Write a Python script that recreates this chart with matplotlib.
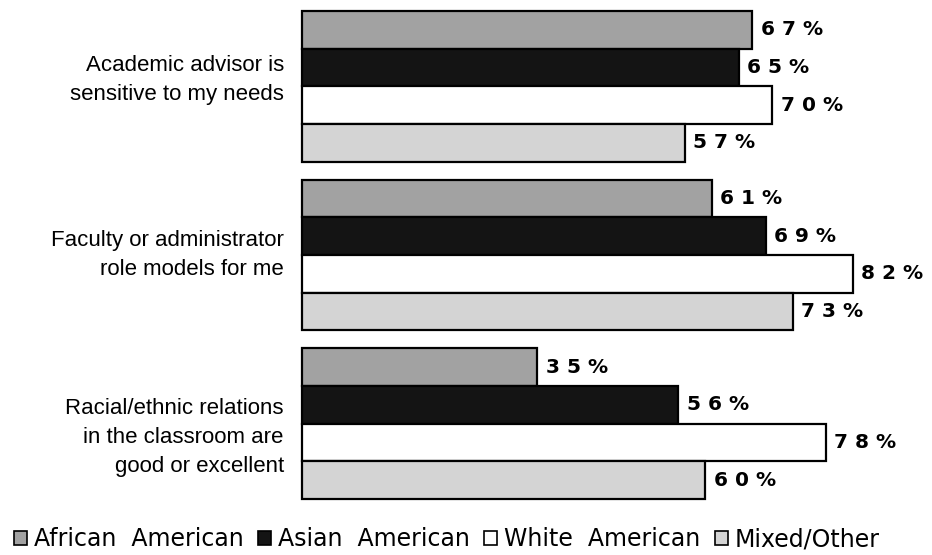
import matplotlib.pyplot as plt
from matplotlib.patches import Patch

plt.rcParams["font.family"] = ["Liberation Sans", "DejaVu Sans"]

# Share of students agreeing, by group (percent)
questions = [
    "Academic advisor is\nsensitive to my needs",
    "Faculty or administrator\nrole models for me",
    "Racial/ethnic relations\nin the classroom are\ngood or excellent",
]
groups = ["African  American", "Asian  American", "White  American", "Mixed/Other"]
african_american = [67, 61, 35]
asian_american = [65, 69, 56]
white_american = [70, 82, 78]
mixed_other = [57, 73, 60]

series = [african_american, asian_american, white_american, mixed_other]
colors = ["#a2a2a2", "#141414", "#ffffff", "#d4d4d4"]

fig = plt.figure(figsize=(9.32, 5.55), dpi=100)
W, H = 932, 555
ax = fig.add_axes([302 / W, (H - 499) / H, 630 / W, 488 / H])

bar_h = 1.0
group_pitch = 4.47
label_shift = [-0.16, 0.0, 0.37]  # nudges for the question text
for i, q in enumerate(questions):
    top = i * group_pitch
    for k, vals in enumerate(series):
        y = top + k * bar_h + bar_h / 2
        ax.barh(y, vals[i], height=bar_h, color=colors[k], edgecolor="black",
                linewidth=1.6, clip_on=False)
        ax.annotate(" ".join(f"{vals[i]}%"), (vals[i], y), xytext=(6, 0),
                    textcoords="offset points", va="center", ha="left",
                    fontsize=14.5, fontweight="bold", family="DejaVu Sans")
    ax.text(-2.7, top + 2 * bar_h + label_shift[i], q, ha="right", va="center",
            fontsize=16, linespacing=1.5)

ax.set_xlim(0, 630 / 6.72)
ax.set_ylim(2 * group_pitch + 4 * bar_h, 0)
ax.axis("off")

handles = [Patch(facecolor=c, edgecolor="black", linewidth=1.2) for c in colors]
fig.legend(handles, groups, loc="lower left", bbox_to_anchor=(0.0, -0.019),
           ncol=4, frameon=False, handlelength=0.55, handleheight=0.55,
           handletextpad=0.3, columnspacing=0.6, borderaxespad=0.2,
           prop={"family": "DejaVu Sans", "size": 17})

fig.savefig("out.png", dpi=100)
